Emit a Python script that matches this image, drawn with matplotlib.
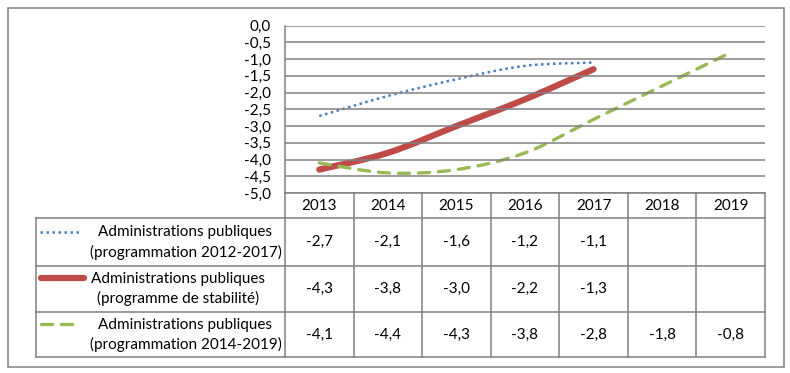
import matplotlib
matplotlib.use("Agg")
import matplotlib.pyplot as plt
from matplotlib.path import Path
from matplotlib.patches import PathPatch, Rectangle
from matplotlib.lines import Line2D
from matplotlib.transforms import blended_transform_factory
import numpy as np

plt.rcParams['font.family'] = ['Lato', 'DejaVu Sans']

# données (solde, en points de PIB)
annees = ["2013", "2014", "2015", "2016", "2017", "2018", "2019"]
serie_2012_2017 = [-2.7, -2.1, -1.6, -1.2, -1.1]
serie_stabilite = [-4.3, -3.8, -3.0, -2.2, -1.3]
serie_2014_2019 = [-4.1, -4.4, -4.3, -3.8, -2.8, -1.8, -0.8]
noms = [["Administrations publiques", "(programmation 2012-2017)"],
        ["Administrations publiques", "(programme de stabilité)"],
        ["Administrations publiques", "(programmation 2014-2019)"]]
y_ticks = np.arange(-5.0, 0.01, 0.5)

bleu, rouge, vert = "#4A7EBB", "#BE4B48", "#98B954"
gris = "#808080"
fs = 11

W, H = 790, 373
fig = plt.figure(figsize=(W / 100, H / 100), dpi=100)

# calque en pixels pour le cadre et le tableau
ov = fig.add_axes([0, 0, 1, 1], zorder=0)
ov.set_xlim(0, W)
ov.set_ylim(H, 0)
ov.axis("off")
ov.add_patch(Rectangle((7.5, 7.5), 776, 359, fill=False, ec=gris, lw=1.1))

ax = fig.add_axes([285 / W, 1 - 193 / H, 480 / W, (193 - 25.7) / H], zorder=1)
ax.patch.set_alpha(0)
ax.set_xlim(-0.5, len(annees) - 0.5)
ax.set_ylim(-5, 0)
ax.set_yticks(y_ticks)
ax.set_yticklabels([f"{v:.1f}".replace(".", ",") for v in y_ticks], fontsize=fs)
ax.set_xticks([])
ax.tick_params(axis="y", length=0, pad=10)
ax.grid(axis="y", color=gris, lw=1.1)
for s in ["top", "right"]:
    ax.spines[s].set_visible(False)
for s in ["left", "bottom"]:
    ax.spines[s].set_color(gris)
    ax.spines[s].set_linewidth(1.1)


def courbe(vals, **kw):
    # courbe lissée (Bézier) passant par les valeurs
    pts = [(i, v) for i, v in enumerate(vals)]
    n = len(pts)
    verts = [pts[0]]
    codes = [Path.MOVETO]
    for i in range(n - 1):
        p0 = np.array(pts[max(i - 1, 0)])
        p1 = np.array(pts[i])
        p2 = np.array(pts[i + 1])
        p3 = np.array(pts[min(i + 2, n - 1)])
        c1 = p1 + (p2 - p0) / 6
        c2 = p2 - (p3 - p1) / 6
        verts += [tuple(c1), tuple(c2), tuple(p2)]
        codes += [Path.CURVE4] * 3
    patch = PathPatch(Path(verts, codes), fill=False, **kw)
    ax.add_patch(patch)


courbe(serie_2012_2017, ec=bleu, lw=1.8, linestyle=(0, (1, 1.4)), capstyle="butt")
courbe(serie_stabilite, ec=rouge, lw=4.5, capstyle="round")
courbe(serie_2014_2019, ec=vert, lw=2.4, linestyle=(0, (3.3, 2.7)), capstyle="round")

# tableau de données
tr = blended_transform_factory(ax.transData, ov.transData)
n = len(annees)
rows_y = [193, 218, 265.7, 311.7, 357.3]
lk = dict(color=gris, lw=1.1)
ov.plot([-0.5, n - 0.5], [218, 218], transform=tr, **lk)
for y in rows_y[2:]:
    ov.plot([35.7, 285], [y, y], **lk)
    ov.plot([-0.5, n - 0.5], [y, y], transform=tr, **lk)
ov.plot([35.7, 285], [218, 218], **lk)
ov.plot([35.7, 35.7], [218, 357.3], **lk)
for i in range(n + 1):
    ov.plot([i - 0.5, i - 0.5], [193, 357.3], transform=tr, **lk)

for i, a in enumerate(annees):
    ov.text(i, 205.7, a, transform=tr, ha="center", va="center", fontsize=fs)

series = [serie_2012_2017, serie_stabilite, serie_2014_2019]
centres = [242, 288.7, 334.5]
for r, vals in enumerate(series):
    for i, v in enumerate(vals):
        ov.text(i, centres[r], f"{v:.1f}".replace(".", ","), transform=tr,
                ha="center", va="center", fontsize=fs)

# clés de légende
yk = [232, 278, 324]
ov.add_line(Line2D([40, 80], [yk[0]] * 2, color=bleu, lw=1.8, linestyle=(0, (1, 1.4))))
ov.add_line(Line2D([41, 84], [yk[1]] * 2, color=rouge, lw=4.5, solid_capstyle="round"))
ov.add_line(Line2D([41, 74], [yk[2]] * 2, color=vert, lw=2.4,
                   linestyle=(0, (3.3, 2.7)), dash_capstyle="round"))
xtxt = [185.5, 178, 185.5]
for r, (l1, l2) in enumerate(noms):
    ov.text(xtxt[r], centres[r] - 10, l1, ha="center", va="center", fontsize=fs)
    ov.text(xtxt[r], centres[r] + 10, l2, ha="center", va="center", fontsize=fs)

fig.savefig("out.png", dpi=100)
